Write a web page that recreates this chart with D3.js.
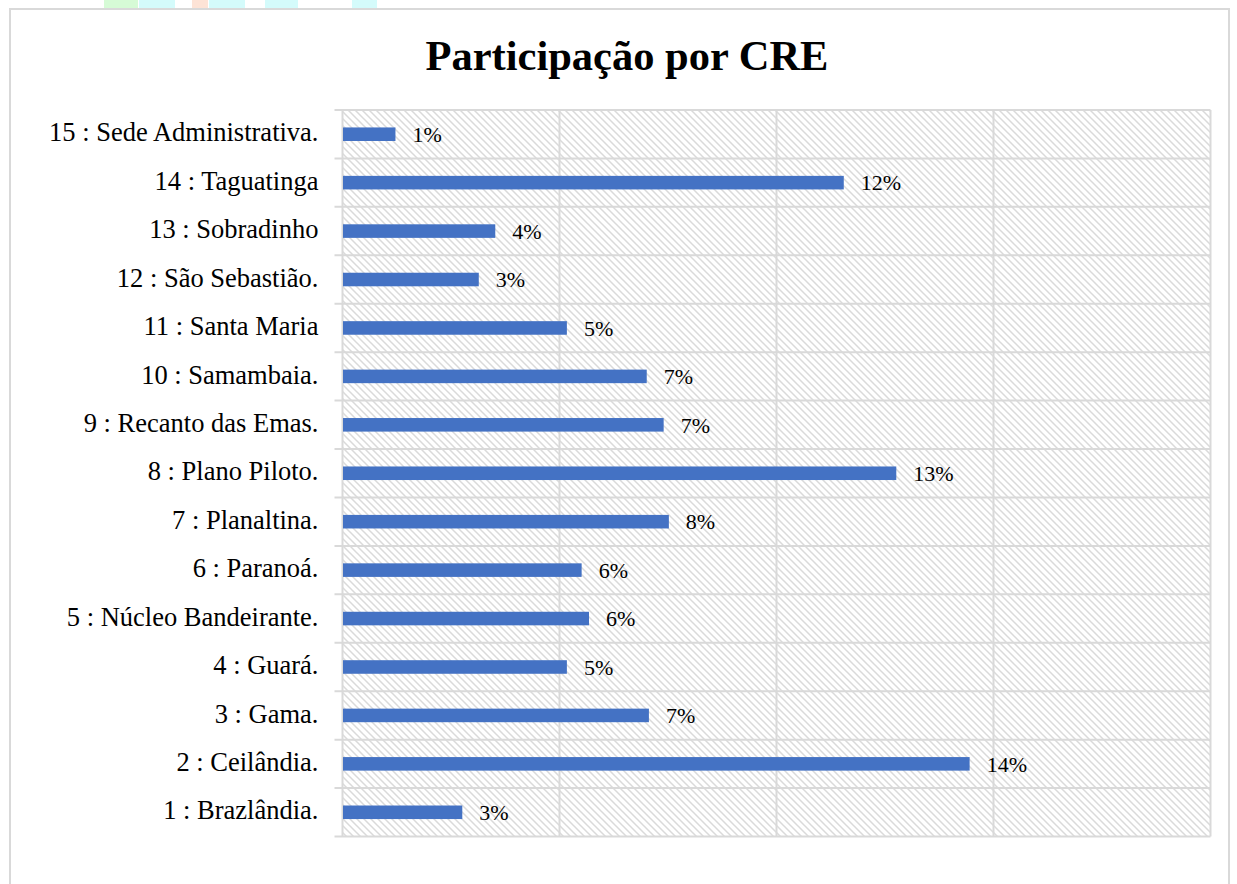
<!DOCTYPE html>
<html>
<head>
<meta charset="utf-8">
<script src="https://cdn.jsdelivr.net/npm/d3@7"></script>
<style>
  body { margin: 0; background: #fff; }
  text { font-family: "Liberation Serif", "Times New Roman", serif; fill: #000; }
</style>
</head>
<body>
<svg width="1237" height="884"></svg>
<script>
const width = 1237, height = 884;

// data, bottom to top as in the source
const categories = [
  "1 : Brazlândia.", "2 : Ceilândia.", "3 : Gama.", "4 : Guará.",
  "5 : Núcleo Bandeirante.", "6 : Paranoá.", "7 : Planaltina.", "8 : Plano Piloto.",
  "9 : Recanto das Emas.", "10 : Samambaia.", "11 : Santa Maria", "12 : São Sebastião.",
  "13 : Sobradinho", "14 : Taguatinga", "15 : Sede Administrativa."
];
const shares = [
  0.0276, 0.1445, 0.0706, 0.0517, 0.0568, 0.0551, 0.0752, 0.1276,
  0.0740, 0.0701, 0.0517, 0.0314, 0.0352, 0.1155, 0.0122
];
const gridTicks = [0, 0.05, 0.10, 0.15, 0.20];

// stray coloured strips at the top edge of the screenshot
const topStrips = [
  { x0: 104, x1: 138, c: "#d6fbd6" }, { x0: 139, x1: 175, c: "#d4fbfb" },
  { x0: 192, x1: 208, c: "#fde3d6" }, { x0: 209, x1: 245, c: "#d4fbfb" },
  { x0: 265, x1: 298, c: "#d4fbfb" }, { x0: 352, x1: 377, c: "#d4fbfb" }
];

const plot = { left: 342.5, right: 1210.5, top: 110, bottom: 836.5 };
const gridColor = "#d9d9d9";

const svg = d3.select("svg");

svg.selectAll("rect.strip")
  .data(topStrips)
  .enter().append("rect")
  .attr("class", "strip")
  .attr("x", d => d.x0)
  .attr("y", 0)
  .attr("width", d => d.x1 - d.x0)
  .attr("height", 8)
  .attr("fill", d => d.c);

// chart border
svg.append("rect")
  .attr("x", 10).attr("y", 9)
  .attr("width", 1219).attr("height", 900)
  .attr("fill", "none")
  .attr("stroke", gridColor)
  .attr("stroke-width", 2);

// hatch pattern for plot area
const defs = svg.append("defs");
const pat = defs.append("pattern")
  .attr("id", "hatch")
  .attr("patternUnits", "userSpaceOnUse")
  .attr("width", 7).attr("height", 7);
pat.append("path")
  .attr("d", "M0,0L7,7M-1,6L1,8M6,-1L8,1")
  .attr("stroke", "#dadada")
  .attr("stroke-width", 1.5);

const x = d3.scaleLinear()
  .domain([0, 0.20])
  .range([plot.left, plot.right]);

const y = d3.scaleBand()
  .domain(categories.slice().reverse())
  .range([plot.top, plot.bottom]);

svg.append("rect")
  .attr("x", plot.left).attr("y", plot.top)
  .attr("width", plot.right - plot.left)
  .attr("height", plot.bottom - plot.top)
  .attr("fill", "url(#hatch)");

// vertical gridlines
svg.append("g").selectAll("line")
  .data(gridTicks)
  .enter().append("line")
  .attr("x1", d => x(d)).attr("x2", d => x(d))
  .attr("y1", plot.top).attr("y2", plot.bottom)
  .attr("stroke", gridColor)
  .attr("stroke-width", 2);

// horizontal row lines, with short tick stubs on the left
const rowEdges = y.domain().map(c => y(c)).concat([plot.bottom]);
svg.append("g").selectAll("line")
  .data(rowEdges)
  .enter().append("line")
  .attr("x1", plot.left - 8).attr("x2", plot.right)
  .attr("y1", d => d).attr("y2", d => d)
  .attr("stroke", gridColor)
  .attr("stroke-width", 2);

const barH = y.bandwidth() * 0.28;
const rows = categories.map((c, i) => ({ c, v: shares[i] }));

svg.append("g").selectAll("rect")
  .data(rows)
  .enter().append("rect")
  .attr("x", x(0) + 0.5)
  .attr("y", d => y(d.c) + y.bandwidth() / 2 - barH / 2)
  .attr("width", d => x(d.v) - x(0) - 0.5)
  .attr("height", barH)
  .attr("fill", "#4472c4");

const pct = d3.format(".0%");
svg.append("g").selectAll("text")
  .data(rows)
  .enter().append("text")
  .attr("x", d => x(d.v) + 17)
  .attr("y", d => y(d.c) + y.bandwidth() / 2)
  .attr("dy", "0.35em")
  .attr("font-size", "22px")
  .text(d => pct(d.v));

// category labels
svg.append("g").selectAll("text")
  .data(categories)
  .enter().append("text")
  .attr("x", plot.left - 24)
  .attr("y", d => y(d) + y.bandwidth() / 2)
  .attr("dy", "0.27em")
  .attr("text-anchor", "end")
  .attr("font-size", "26.5px")
  .text(d => d);

svg.append("text")
  .attr("x", 627)
  .attr("y", 70)
  .attr("text-anchor", "middle")
  .attr("font-size", "42.5px")
  .attr("font-weight", "bold")
  .text("Participação por CRE");
</script>
</body>
</html>
